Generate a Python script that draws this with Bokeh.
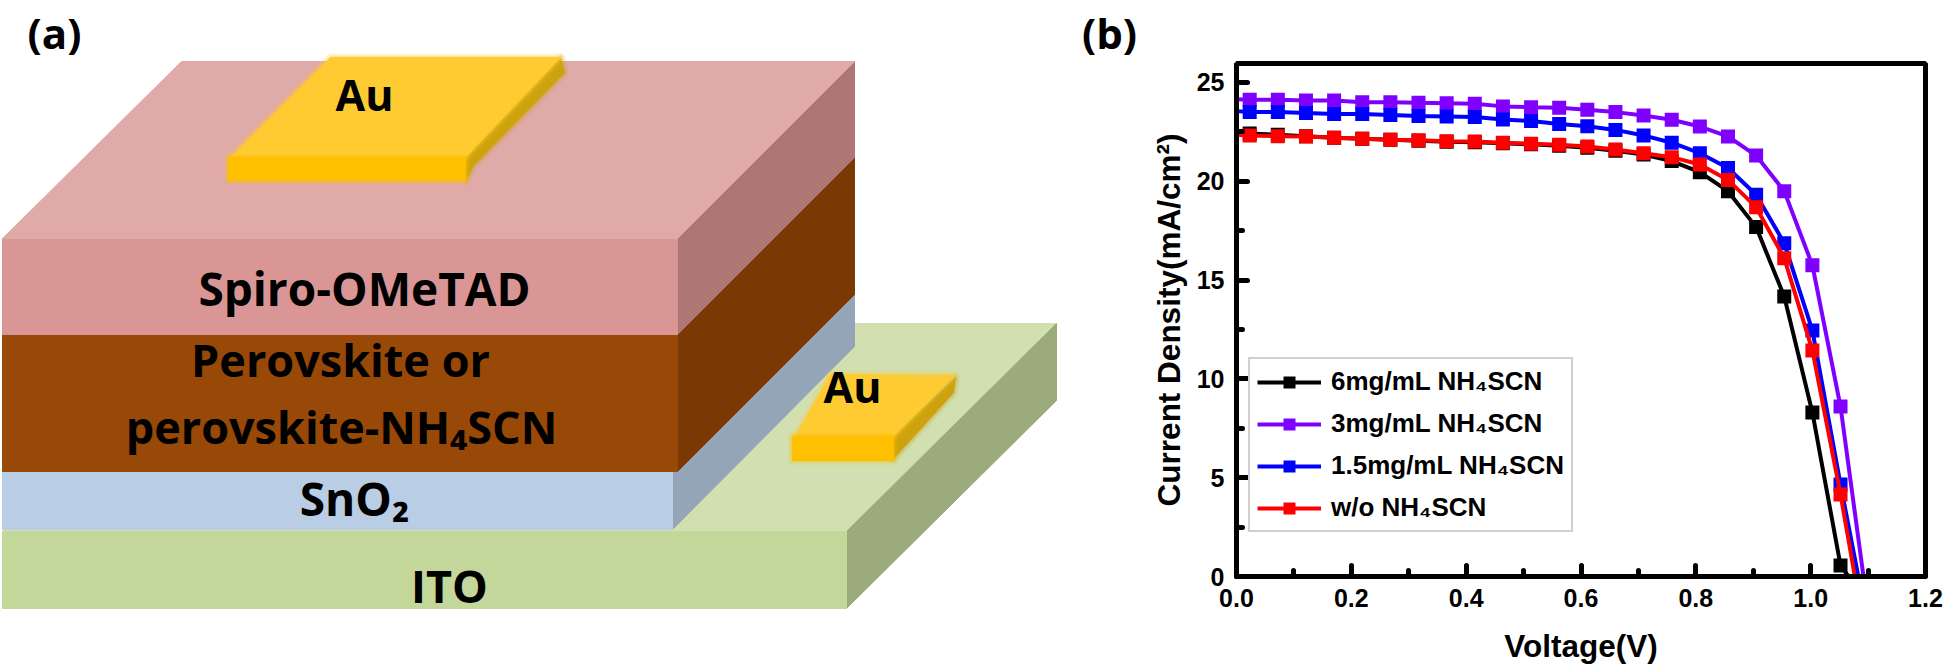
from bokeh.plotting import figure
from bokeh.layouts import row
from bokeh.models import Range1d, FixedTicker, Legend, LegendItem, Label, NumeralTickFormatter
from bokeh.embed import file_html
from bokeh.resources import INLINE

# ---------- panel (b) data ----------
voltage = [0.023, 0.072, 0.121, 0.170, 0.219, 0.268, 0.317, 0.366, 0.415, 0.464, 0.513,
           0.562, 0.611, 0.660, 0.709, 0.758, 0.807, 0.856, 0.905, 0.954, 1.003, 1.052]
j_6mg = [22.42, 22.36, 22.28, 22.20, 22.15, 22.10, 22.05, 22.00, 21.98, 21.92, 21.87,
         21.80, 21.70, 21.55, 21.35, 21.02, 20.46, 19.50, 17.68, 14.17, 8.30, 0.56]
j_3mg = [24.12, 24.12, 24.09, 24.09, 24.00, 24.00, 23.97, 23.95, 23.92, 23.79, 23.75,
         23.72, 23.62, 23.50, 23.33, 23.11, 22.77, 22.27, 21.30, 19.50, 15.75, 8.60]
j_15mg = [23.50, 23.50, 23.45, 23.41, 23.41, 23.36, 23.30, 23.28, 23.25, 23.13, 23.05,
          22.90, 22.79, 22.60, 22.32, 21.95, 21.42, 20.67, 19.32, 16.87, 12.45, 4.66]
j_wo = [22.32, 22.28, 22.27, 22.20, 22.15, 22.10, 22.07, 22.03, 22.01, 21.95, 21.90,
        21.85, 21.76, 21.61, 21.42, 21.22, 20.85, 20.07, 18.69, 16.11, 11.44, 4.15]
# where each curve meets the axes (line only, no marker)
v_start = 0.0
j0_6mg, j0_3mg, j0_15mg, j0_wo = 22.45, 24.15, 23.55, 22.35
voc_6mg, voc_3mg, voc_15mg, voc_wo = 1.066, 1.092, 1.083, 1.077

series_names = ["6mg/mL NH₄SCN", "3mg/mL NH₄SCN", "1.5mg/mL NH₄SCN", "w/o NH₄SCN"]
series_colors = ["#000000", "#8000ff", "#0000ff", "#ff0000"]
x_major = [0.0, 0.2, 0.4, 0.6, 0.8, 1.0, 1.2]
x_minor = [0.1, 0.3, 0.5, 0.7, 0.9, 1.1]
y_major = [0, 5, 10, 15, 20, 25]
y_minor = [2.5, 7.5, 12.5, 17.5, 22.5]

# ---------- panel (a) schematic geometry, in page pixels ----------
ito_top = ([2, 846, 1056, 210], [531, 531, 323, 323], "#d1dfb1")
ito_side = ([846, 1056, 1056, 846], [531, 323, 400, 608], "#9cab7c")
ito_front = ([2, 846, 846, 2], [531, 531, 608, 608], "#c4d79b")
sno_side = ([672, 854, 854, 672], [471, 294, 346, 529], "#94a5b8")
sno_front = ([2, 672, 672, 2], [471, 471, 529, 529], "#b9cde5")
per_side = ([677, 854, 854, 677], [334, 157, 294, 471], "#7a3904")
per_front = ([2, 677, 677, 2], [334, 334, 471, 471], "#984807")
spi_side = ([677, 854, 854, 677], [238, 61, 157, 334], "#ae7776")
spi_front = ([2, 677, 677, 2], [238, 238, 334, 334], "#da9694")
spi_top = ([2, 181, 854, 677], [238, 61, 61, 238], "#e0aaa8")
layers = [ito_top, ito_side, ito_front, sno_side, sno_front, per_side, per_front,
          spi_side, spi_front, spi_top]

au1_top = ([330, 560, 465, 230], [57, 57, 157, 157], "#fecb33")
au1_side = ([465, 560, 564, 473, 465], [157, 58, 72, 165, 180], "#cda20d")
au1_front = ([228, 465, 465, 228], [157, 157, 180, 180], "#fec000")
au2_top = ([830, 953, 893, 795], [374, 375, 436, 436], "#fecb33")
au2_side = ([893, 955, 953, 893], [436, 377, 392, 458], "#cda20d")
au2_front = ([792, 893, 893, 792], [436, 436, 460, 460], "#fec000")
gold = [au1_side, au1_top, au1_front, au2_side, au2_top, au2_front]

diagram_font = "Open Sans"
diagram_labels = [
    ("(a)", 54, 32, 42), ("(b)", 1109, 32, 42),
    ("Au", 364, 94, 43), ("Spiro-OMeTAD", 364, 287, 46),
    ("Perovskite or", 340, 359, 45), ("perovskite-NH₄SCN", 341, 426, 45),
    ("SnO₂", 354, 497, 46), ("ITO", 449, 585, 45), ("Au", 852, 386, 43),
]

# ---------- panel (a) ----------
LEFT_W, H = 1140, 669
a = figure(width=LEFT_W, height=H, output_backend="svg", toolbar_location=None,
           x_range=Range1d(0, LEFT_W), y_range=Range1d(H, 0),
           min_border=0, outline_line_color=None, background_fill_color="white",
           frame_align=False)
a.axis.visible = False
a.grid.visible = False
for xs, ys, col in layers:
    a.patch(xs, ys, fill_color=col, line_color=col, line_width=1)
for xs, ys, col in gold:
    a.patch(xs, ys, fill_color=col, line_color=col, line_width=10, line_alpha=0.10, line_join="round")
    a.patch(xs, ys, fill_color=col, line_color=col, line_width=6, line_alpha=0.2, line_join="round")
    a.patch(xs, ys, fill_color=col, line_color=col, line_width=3, line_alpha=0.3, line_join="round")
for txt, x, y, size in diagram_labels:
    a.add_layout(Label(x=x, y=y, text=txt, text_font=diagram_font, text_font_size=f"{size}px",
                       text_font_style="bold", text_color="black",
                       text_align="center", text_baseline="middle"))

# ---------- panel (b) ----------
b = figure(width=806, height=H, output_backend="svg", toolbar_location=None,
           x_range=Range1d(0, 1.2), y_range=Range1d(0, 25.96),
           min_border_left=96, min_border_right=21, min_border_top=63, min_border_bottom=93,
           outline_line_color="black", outline_line_width=5, frame_align=False,
           x_axis_label="Voltage(V)", y_axis_label="Current Density(mA/cm²)")
b.grid.visible = False
font = "Liberation Sans"
for ax in (b.xaxis[0], b.yaxis[0]):
    ax.axis_line_width = 5
    ax.axis_line_color = "black"
    ax.major_tick_line_width = 5
    ax.minor_tick_line_width = 5
    ax.major_tick_line_cap = "round"
    ax.minor_tick_line_cap = "round"
    ax.major_tick_in = 11
    ax.major_tick_out = 0
    ax.minor_tick_in = 6
    ax.minor_tick_out = 0
    ax.major_label_text_font = font
    ax.major_label_text_font_style = "bold"
    ax.major_label_text_font_size = "25px"
    ax.major_label_text_color = "black"
    ax.axis_label_text_font = font
    ax.axis_label_text_font_style = "bold"
    ax.axis_label_text_font_size = "31.5px"
    ax.axis_label_text_color = "black"
b.xaxis[0].ticker = FixedTicker(ticks=x_major, minor_ticks=x_minor)
b.yaxis[0].ticker = FixedTicker(ticks=y_major, minor_ticks=y_minor)
b.xaxis[0].formatter = NumeralTickFormatter(format="0.0")
b.xaxis[0].major_label_standoff = 12
b.yaxis[0].major_label_standoff = 12
b.xaxis[0].axis_label_standoff = 18
b.yaxis[0].axis_label_standoff = 7

all_j = [j_6mg, j_3mg, j_15mg, j_wo]
j0s = [j0_6mg, j0_3mg, j0_15mg, j0_wo]
vocs = [voc_6mg, voc_3mg, voc_15mg, voc_wo]
items = []
for name, col, js, j0, voc in zip(series_names, series_colors, all_j, j0s, vocs):
    ln = b.line([v_start] + voltage + [voc], [j0] + js + [0], line_color=col, line_width=4)
    mk = b.scatter(voltage, js, marker="square", size=14, fill_color=col, line_color=col, line_width=0)
    items.append(LegendItem(label=name, renderers=[ln, mk]))

leg = Legend(items=items, location=(12, 44), orientation="vertical",
             label_text_font=font, label_text_font_style="bold", label_text_font_size="26px",
             label_text_color="black", glyph_width=64, glyph_height=30, label_height=30,
             spacing=11, padding=7, margin=0, label_standoff=10,
             border_line_color="#a0a0a0", border_line_width=2, background_fill_alpha=1)
b.add_layout(leg, "center")

page = row(a, b, spacing=0)
open("out.html", "w").write(file_html(page, INLINE))
